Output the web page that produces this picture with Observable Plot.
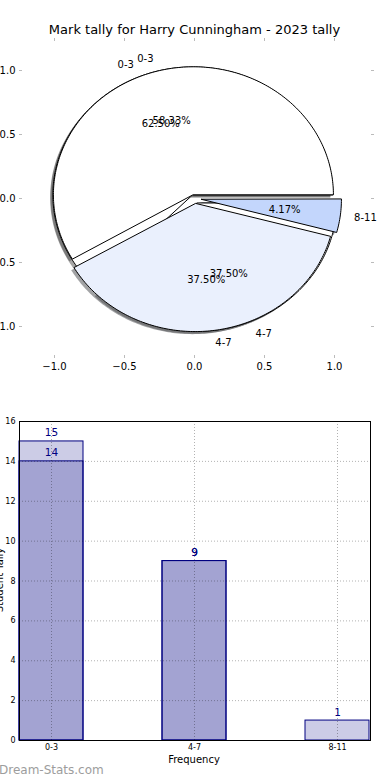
<!DOCTYPE html>
<html><head><meta charset="utf-8">
<script src="https://cdn.jsdelivr.net/npm/d3@7"></script>
<script src="https://cdn.jsdelivr.net/npm/@observablehq/plot@0.6"></script>
<style>
body{margin:0;background:#fff;font-family:"DejaVu Sans",sans-serif;}
#wrap{position:relative;width:390px;height:780px;overflow:hidden;background:#fff;}
.abs{position:absolute;white-space:nowrap;}
</style></head><body>
<div id="wrap">
  <div id="pie" class="abs" style="left:0;top:0"></div>
  <div id="bar" class="abs" style="left:0;top:390px"></div>
  <div class="abs" style="left:0;width:389px;top:22px;line-height:16px;text-align:center;font-size:13px;color:#000">Mark tally for Harry Cunningham - 2023 tally</div>
  <div class="abs" style="left:134px;width:120px;top:754px;line-height:12px;text-align:center;font-size:10px;color:#000">Frequency</div>
  <div class="abs" style="left:-60px;width:120px;top:574px;line-height:12px;text-align:center;font-size:10px;color:#000;transform:rotate(-90deg)">Student Tally</div>
  <div class="abs" style="left:-1px;top:762px;line-height:16px;font-size:12px;color:#9d9d9d">Dream-Stats.com</div>
</div>
<script>
// ---- data ----
const pieCategoriesA = ["0-3", "4-7"];
const pieValuesA = [15, 9];
const pieCategoriesB = ["0-3", "4-7", "8-11"];
const pieValuesB = [14, 9, 1];
const pieColorsA = ["#ffffff", "#ffffff"];
const pieColorsB = ["#ffffff", "#eaf0fd", "#c3d6fc"];
const explodeByCategory = {"0-3": 0.03, "4-7": 0.04, "8-11": 0.05};
const pieTicks = [-1, -0.5, 0, 0.5, 1];

const barCategories = ["0-3", "4-7", "8-11"];
const barValuesA = [15, 9, 1];
const barValuesB = [14, 9, 0];
const barTicks = [0, 2, 4, 6, 8, 10, 12, 14, 16];

// ---- pie geometry from values ----
function wedges(cats, vals, colors, pid) {
  const total = d3.sum(vals);
  let cum = 0;
  return cats.map((c, i) => {
    const t1 = 360 * cum / total; cum += vals[i]; const t2 = 360 * cum / total;
    const tm = (t1 + t2) / 2 * Math.PI / 180;
    const e = explodeByCategory[c];
    return {id: pid + c, cat: c, value: vals[i], pct: vals[i] / total * 100, t1, t2,
      ux: Math.cos(tm), uy: Math.sin(tm), cx: e * Math.cos(tm), cy: e * Math.sin(tm), color: colors[i]};
  });
}
function outline(w, dx, dy, fill, tag) {
  const pts = [{id: tag + w.id, x: w.cx + dx, y: w.cy + dy, fill}];
  const n = Math.max(2, Math.ceil(w.t2 - w.t1));
  for (let k = 0; k <= n; k++) {
    const a = (w.t1 + (w.t2 - w.t1) * k / n) * Math.PI / 180;
    pts.push({id: tag + w.id, x: w.cx + dx + Math.cos(a), y: w.cy + dy + Math.sin(a), fill});
  }
  return pts;
}
const wA = wedges(pieCategoriesA, pieValuesA, pieColorsA, "A");
const wB = wedges(pieCategoriesB, pieValuesB, pieColorsB, "B");
const shadowOf = c => { const r = d3.rgb(c); return d3.rgb(r.r * 0.3, r.g * 0.3, r.b * 0.3).formatHex(); };
const shadowPts = [...wA, ...wB].flatMap(w => outline(w, -0.02, -0.02, shadowOf(w.color), "s"));
const ptsA = wA.flatMap(w => outline(w, 0, 0, w.color, "w"));
const ptsB = wB.flatMap(w => outline(w, 0, 0, w.color, "w"));
const all = [...wA, ...wB];
const labels = all.map(w => ({x: w.cx + 1.1 * w.ux, y: w.cy + 1.1 * w.uy, text: w.cat}));
const pcts = all.map(w => ({x: w.cx + 0.6 * w.ux, y: w.cy + 0.6 * w.uy, text: w.pct.toFixed(2) + "%"}));
const fmt = d => d3.format(".1f")(d).replace("-", "\u2212");

const pie = Plot.plot({
  width: 390, height: 380, marginTop: 40, marginBottom: 25, marginLeft: 22, marginRight: 20,
  x: {domain: [(22 - 194) / 140, (370 - 194) / 140], label: null},
  y: {domain: [(198 - 355) / 128, (198 - 40) / 128], label: null},
  color: {type: "identity"},
  style: {fontFamily: "DejaVu Sans", fontSize: "10px", background: "transparent", overflow: "visible"},
  marks: [
    Plot.line(shadowPts, {x: "x", y: "y", z: "id", fill: "fill", fillOpacity: 0.5, stroke: null, curve: "linear-closed"}),
    Plot.line(ptsA, {x: "x", y: "y", z: "id", fill: "fill", stroke: "#000", strokeWidth: 1, curve: "linear-closed"}),
    Plot.line(ptsB, {x: "x", y: "y", z: "id", fill: "fill", stroke: "#000", strokeWidth: 1, curve: "linear-closed"}),
    Plot.text(labels.filter(d => d.x > 0), {x: "x", y: "y", text: "text", textAnchor: "start", fill: "#000"}),
    Plot.text(labels.filter(d => d.x <= 0), {x: "x", y: "y", text: "text", textAnchor: "end", fill: "#000"}),
    Plot.text(pcts, {x: "x", y: "y", text: "text", fill: "#000"}),
    Plot.axisX(pieTicks, {anchor: "bottom", tickFormat: fmt, tickSize: 3, tickPadding: 4, stroke: "#bbb", fill: "#000", label: null}),
    Plot.axisX(pieTicks, {anchor: "top", tickFormat: () => "", tickSize: 3, stroke: "#bbb", label: null}),
    Plot.axisY(pieTicks, {anchor: "left", tickFormat: fmt, tickSize: 3, tickPadding: 4, stroke: "#bbb", fill: "#000", label: null}),
    Plot.axisY(pieTicks, {anchor: "right", tickFormat: () => "", tickSize: 3, stroke: "#bbb", label: null})
  ]
});
document.getElementById("pie").appendChild(pie);

// ---- bar chart ----
const barA = barCategories.map((c, i) => ({cat: c, v: barValuesA[i]}));
const barB = barCategories.map((c, i) => ({cat: c, v: barValuesB[i]}));
const bar = Plot.plot({
  width: 390, height: 385, marginTop: 31, marginBottom: 35, marginLeft: 19, marginRight: 20,
  x: {type: "band", domain: barCategories, paddingInner: 0.552, paddingOuter: 0, label: null},
  y: {domain: [0, 16], label: null},
  style: {fontFamily: "DejaVu Sans", fontSize: "8px", background: "transparent", overflow: "visible"},
  marks: [
    Plot.barY(barA, {x: "cat", y: "v", fill: "#000080", fillOpacity: 0.2, stroke: "#000080", strokeWidth: 1}),
    Plot.barY(barB, {x: "cat", y: "v", fill: "#000080", fillOpacity: 0.2, stroke: "#000080", strokeWidth: 1}),
    Plot.gridY(barTicks.filter(t => t > 0 && t < 16), {stroke: "#000", strokeOpacity: 0.3, strokeDasharray: "1,2", strokeWidth: 1}),
    Plot.gridX(barCategories, {stroke: "#000", strokeOpacity: 0.3, strokeDasharray: "1,2", strokeWidth: 1}),
    Plot.frame({stroke: "#000", strokeWidth: 1}),
    Plot.text(barA.filter(d => d.v > 0), {x: "cat", y: "v", text: d => String(d.v), lineAnchor: "bottom", dy: -5, fill: "#000080", fontSize: 10.5}),
    Plot.text(barB.filter(d => d.v > 0), {x: "cat", y: "v", text: d => String(d.v), lineAnchor: "bottom", dy: -5, fill: "#000080", fontSize: 10.5}),
    Plot.axisY(barTicks, {anchor: "left", tickSize: 0, tickPadding: 4, fill: "#000", label: null}),
    Plot.axisX({anchor: "bottom", tickSize: 0, tickPadding: 4, fill: "#000", label: null})
  ]
});
document.getElementById("bar").appendChild(bar);
</script>
</body></html>
